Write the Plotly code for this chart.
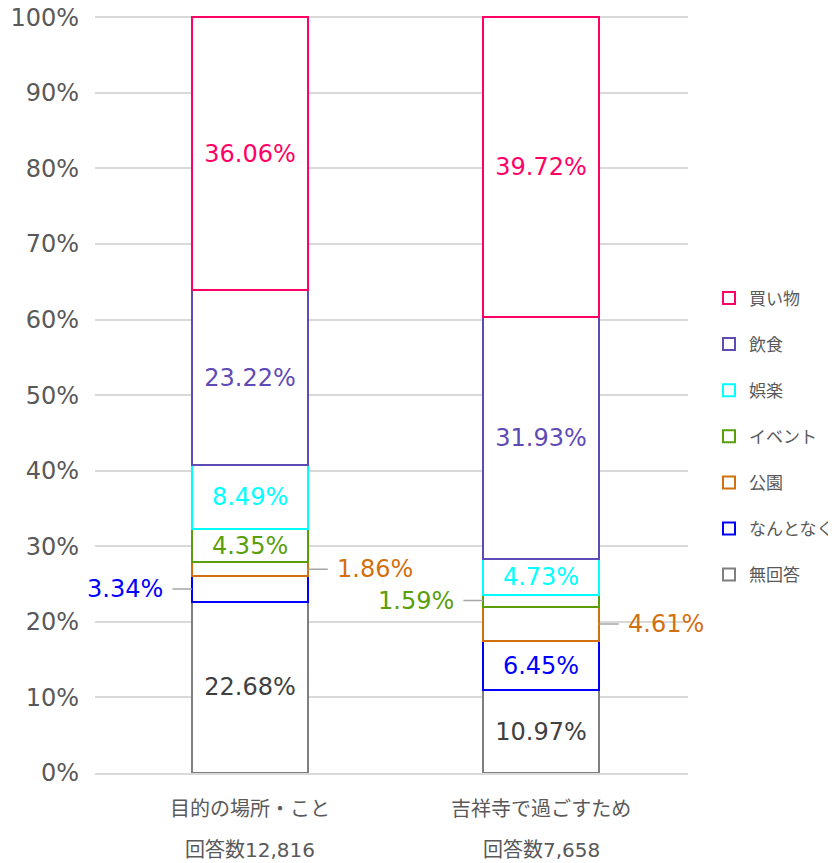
import plotly.graph_objects as go

# categories (x axis), two text lines each
categories = ["目的の場所・こと", "吉祥寺で過ごすため"]
respondents = ["回答数12,816", "回答数7,658"]

# series from bottom of the stack to the top
series_names = ["無回答", "なんとなく", "公園", "イベント", "娯楽", "飲食", "買い物"]
series_values = {
    "無回答":    [22.68, 10.97],
    "なんとなく": [3.34, 6.45],
    "公園":      [1.86, 4.61],
    "イベント":  [4.35, 1.59],
    "娯楽":      [8.49, 4.73],
    "飲食":      [23.22, 31.93],
    "買い物":    [36.06, 39.72],
}

line_colors = {
    "無回答": "#7F7F7F", "なんとなく": "#0000FF", "公園": "#D2700F",
    "イベント": "#5A9E0A", "娯楽": "#00FFFF", "飲食": "#5F4BB6", "買い物": "#FF0066",
}
label_colors = dict(line_colors, 無回答="#404040")

# labels drawn outside the bar with a leader line: (series, category index) -> side
outside = {("なんとなく", 0): -1, ("公園", 0): 1, ("イベント", 1): -1, ("公園", 1): 1}

FONT = "DejaVu Sans, Noto Sans CJK JP, sans-serif"
BAR_W = 0.4

fig = go.Figure()
bottoms = [0.0] * len(categories)
annotations = []
for k, name in enumerate(series_names):
    vals = series_values[name]
    texts = []
    for i, v in enumerate(vals):
        if (name, i) in outside:
            texts.append("")
            side = outside[(name, i)]
            annotations.append(dict(
                x=i + side * BAR_W / 2, y=bottoms[i] + v / 2, xref="x", yref="y",
                text=f"{v:.2f}%", showarrow=True, arrowhead=0, arrowwidth=1.5,
                arrowcolor="#A6A6A6", ax=side * 67, ay=0, borderpad=9,
                font=dict(size=24, color=label_colors[name], family=FONT),
            ))
        else:
            texts.append(f"{v:.2f}%")
    fig.add_trace(go.Bar(
        name=name, x=[0, 1], y=vals, width=BAR_W, legendgroup=name,
        legendrank=len(series_names) - k,
        marker=dict(color="white", line=dict(color=line_colors[name], width=2)),
        text=texts, textposition="inside", insidetextanchor="middle",
        constraintext="none", textangle=0,
        textfont=dict(size=24, color=label_colors[name], family=FONT),
    ))
    bottoms = [b + v for b, v in zip(bottoms, vals)]

for i, r in enumerate(respondents):
    annotations.append(dict(
        x=i, y=-0.1016, xref="x", yref="paper", text=r, showarrow=False,
        yanchor="middle", font=dict(size=20, color="#595959", family=FONT),
    ))

# the page body adds an 8px margin, so the figure is 8px smaller than the window
fig.update_layout(
    width=828, height=855,
    barmode="stack",
    plot_bgcolor="white", paper_bgcolor="white",
    margin=dict(l=87, r=148, t=7, b=90),
    font=dict(family=FONT, color="#595959"),
    annotations=annotations,
    legend=dict(
        xref="container", x=0.8466, xanchor="left", y=0.444, yanchor="middle",
        traceorder="grouped", tracegroupgap=21,
        font=dict(size=17, color="#595959", family=FONT),
        itemwidth=30,
    ),
    xaxis=dict(
        tickmode="array", tickvals=[0, 1], ticktext=categories,
        range=[-0.533, 1.505], showgrid=False, zeroline=False, automargin=False,
        showline=True, linecolor="#D9D9D9", linewidth=1.5,
        tickfont=dict(size=20, color="#595959"), ticklabelstandoff=17,
    ),
    yaxis=dict(
        range=[0, 100.3], tickvals=list(range(0, 101, 10)),
        ticktext=[f"{t}%" for t in range(0, 101, 10)], automargin=False,
        ticklabeloverflow="allow",
        showgrid=True, gridcolor="#D9D9D9", gridwidth=1.5, zeroline=False,
        tickfont=dict(size=24, color="#595959"), ticklabelstandoff=15,
    ),
)

fig.write_html("out.html")
